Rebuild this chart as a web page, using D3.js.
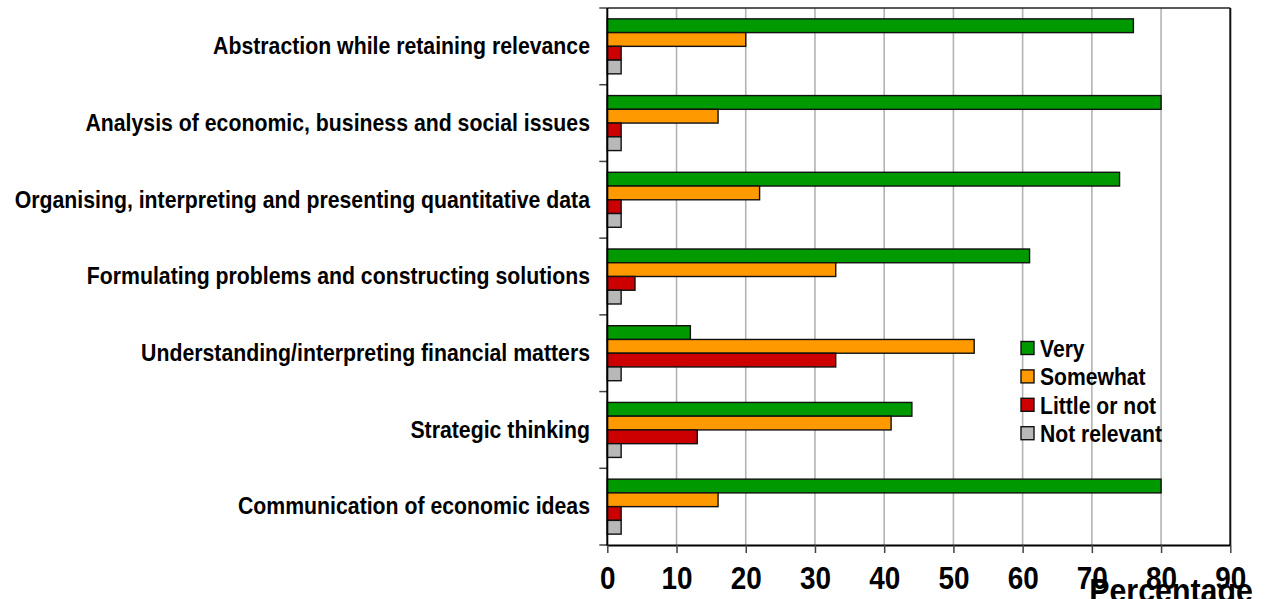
<!DOCTYPE html>
<html>
<head>
<meta charset="utf-8">
<script src="https://cdn.jsdelivr.net/npm/d3@7"></script>
<style>
  html, body { margin: 0; padding: 0; background: #fff; }
  svg { display: block; }
  .lbl { font-family: "Liberation Sans", Arial, sans-serif; font-weight: bold; fill: #000; }
</style>
</head>
<body>
<svg id="chart" width="1266" height="599"></svg>
<script>
const categories = [
  "Abstraction while retaining relevance",
  "Analysis of economic, business and social issues",
  "Organising, interpreting and presenting quantitative data",
  "Formulating problems and constructing solutions",
  "Understanding/interpreting financial matters",
  "Strategic thinking",
  "Communication of economic ideas"
];
const seriesNames = ["Very", "Somewhat", "Little or not", "Not relevant"];
const veryValues = [76, 80, 74, 61, 12, 44, 80];
const somewhatValues = [20, 16, 22, 33, 53, 41, 16];
const littleValues = [2, 2, 2, 4, 33, 13, 2];
const notRelevantValues = [2, 2, 2, 2, 2, 2, 2];
const xTicks = [0, 10, 20, 30, 40, 50, 60, 70, 80, 90];
const seriesColors = ["#009900", "#ff9900", "#cc0000", "#b8b8b8"];
const xTitle = "Percentage";

const seriesValues = [veryValues, somewhatValues, littleValues, notRelevantValues];
const data = categories.map((c, i) => ({
  category: c,
  values: seriesNames.map((s, j) => ({ series: s, value: seriesValues[j][i], idx: j }))
}));

const svg = d3.select("#chart");
const pLeft = 607.3, pRight = 1230.3, pTop = 8, pBottom = 545;
const condense = 0.925;

const x = d3.scaleLinear().domain([0, 90]).range([pLeft, pRight]);
const y0 = d3.scaleBand().domain(categories).range([pTop, pBottom]).paddingInner(0).paddingOuter(0);
const y1 = d3.scaleBand().domain(seriesNames).range([0, y0.bandwidth()]).paddingInner(0).paddingOuter(0.79);
const color = d3.scaleOrdinal().domain(seriesNames).range(seriesColors);

// gridlines
svg.append("g").selectAll("line")
  .data(xTicks.filter(t => t > 0 && t < 90))
  .join("line")
  .attr("x1", d => x(d)).attr("x2", d => x(d))
  .attr("y1", pTop).attr("y2", pBottom)
  .attr("stroke", "#b3b3b3").attr("stroke-width", 1.6);

// plot border (top, right)
svg.append("line").attr("x1", pLeft).attr("x2", pRight).attr("y1", pTop).attr("y2", pTop)
  .attr("stroke", "#222").attr("stroke-width", 1.5);
svg.append("line").attr("x1", pRight).attr("x2", pRight).attr("y1", pTop).attr("y2", pBottom)
  .attr("stroke", "#111").attr("stroke-width", 2);

// bars
const groups = svg.append("g").selectAll("g")
  .data(data).join("g")
  .attr("transform", d => `translate(0,${y0(d.category)})`);
groups.selectAll("rect")
  .data(d => d.values)
  .join("rect")
  .attr("x", x(0))
  .attr("y", d => y1(d.series))
  .attr("width", d => x(d.value) - x(0))
  .attr("height", y1.bandwidth())
  .attr("fill", d => color(d.series))
  .attr("stroke", "#111")
  .attr("stroke-width", 1.4);

// left axis
const yTickPositions = categories.map(c => y0(c)).concat([pBottom]);
svg.append("g").selectAll("line")
  .data(yTickPositions).join("line")
  .attr("x1", pLeft - 8).attr("x2", pLeft)
  .attr("y1", d => d).attr("y2", d => d)
  .attr("stroke", "#444").attr("stroke-width", 1.5);
svg.append("line").attr("x1", pLeft).attr("x2", pLeft).attr("y1", pTop).attr("y2", pBottom + 1)
  .attr("stroke", "#000").attr("stroke-width", 2);

svg.append("g").selectAll("text")
  .data(categories).join("text")
  .attr("class", "lbl")
  .attr("transform", d => `translate(590,${y0(d) + y0.bandwidth() / 2}) scale(${condense},1)`)
  .attr("text-anchor", "end")
  .attr("dominant-baseline", "central")
  .style("font-size", "23px")
  .text(d => d);

// bottom axis
const xAxis = d3.axisBottom(x).tickValues(xTicks).tickSize(8).tickPadding(14).tickSizeOuter(0);
const gx = svg.append("g").attr("transform", `translate(0,${pBottom})`).call(xAxis);
gx.select(".domain").attr("stroke", "#000").attr("stroke-width", 2);
gx.selectAll(".tick line").attr("stroke", "#444").attr("stroke-width", 1.5);
gx.selectAll(".tick text").attr("class", "lbl").style("font-size", "31px").attr("fill", "#000")
  .attr("transform", "scale(0.9,1)");

// x title
svg.append("text").attr("class", "lbl")
  .attr("transform", "translate(1171,602) scale(0.92,1)")
  .attr("text-anchor", "middle")
  .style("font-size", "33px")
  .text(xTitle);

// legend
const legend = svg.append("g").selectAll("g")
  .data(seriesNames).join("g")
  .attr("transform", (d, i) => `translate(1021,${348 + i * 28.4})`);
legend.append("rect")
  .attr("x", 0).attr("y", -6.5).attr("width", 13).attr("height", 13)
  .attr("fill", d => color(d)).attr("stroke", "#111").attr("stroke-width", 1.4);
legend.append("text").attr("class", "lbl")
  .attr("transform", "translate(19,1) scale(0.88,1)")
  .attr("dominant-baseline", "central")
  .style("font-size", "24px")
  .text(d => d);
</script>
</body>
</html>
